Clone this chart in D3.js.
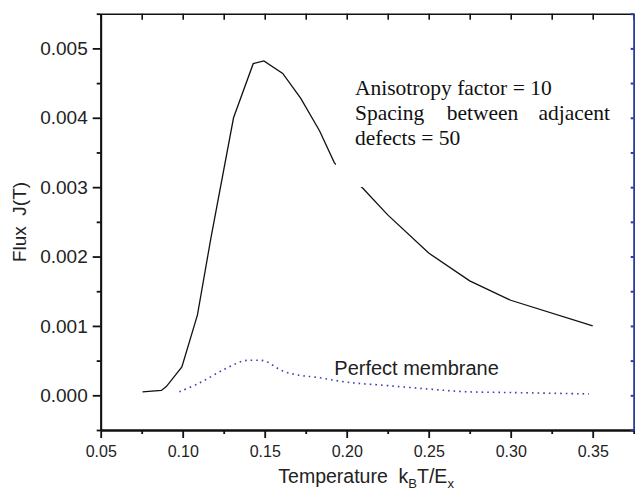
<!DOCTYPE html>
<html>
<head>
<meta charset="utf-8">
<script src="https://cdn.jsdelivr.net/npm/d3@7"></script>
<style>
  html, body { margin: 0; padding: 0; background: #fff; }
  svg { display: block; }
  text { white-space: pre; }
</style>
</head>
<body>
<svg id="chart" width="635" height="494"></svg>
<script>
// ---- data ----
const defectT = [0.0755, 0.087, 0.090, 0.0995, 0.109, 0.117, 0.131, 0.143, 0.1495, 0.161, 0.172, 0.1835, 0.1925, 0.210, 0.225, 0.250, 0.275, 0.300, 0.350];
const defectJ = [0.00005, 0.00007, 0.000125, 0.00041, 0.00116, 0.00224, 0.00400, 0.00478, 0.00482, 0.00464, 0.00428, 0.00381, 0.00335, 0.00298, 0.00260, 0.00205, 0.00165, 0.00137, 0.00100];

const perfectT = [0.098, 0.1104, 0.1246, 0.137, 0.1435, 0.150, 0.161, 0.171, 0.1814, 0.2017, 0.225, 0.250, 0.2726, 0.300, 0.3476];
const perfectJ = [0.00005, 0.00018, 0.000365, 0.000495, 0.000505, 0.000495, 0.00035, 0.00029, 0.00026, 0.000185, 0.00014, 0.00009, 0.000052, 0.00004, 0.00002];

const xTickValues = [0.05, 0.10, 0.15, 0.20, 0.25, 0.30, 0.35];
const xTickLabels = ["0.05", "0.10", "0.15", "0.20", "0.25", "0.30", "0.35"];
const xMinorValues = [0.075, 0.125, 0.175, 0.225, 0.275, 0.325, 0.375];
const yTickValues = [0.000, 0.001, 0.002, 0.003, 0.004, 0.005];
const yTickLabels = ["0.000", "0.001", "0.002", "0.003", "0.004", "0.005"];
const yMinorValues = [-0.0005, 0.0005, 0.0015, 0.0025, 0.0035, 0.0045, 0.0055];

const xDomain = [0.05, 0.375];
const yDomain = [-0.0005, 0.0055];

// ---- layout ----
const mLeft = 100.7, mRight = 633.7, mTop = 13.7, mBottom = 430;
const svg = d3.select("#chart");
const x = d3.scaleLinear().domain(xDomain).range([mLeft, mRight]);
const y = d3.scaleLinear().domain(yDomain).range([mBottom, mTop]);

const sans = "'Liberation Sans', Arial, Helvetica, sans-serif";
const serif = "'Liberation Serif', 'Times New Roman', serif";

// ---- curves ----
const defectData = defectT.map((t, i) => [t, defectJ[i]]);
const perfectData = perfectT.map((t, i) => [t, perfectJ[i]]);

svg.append("path")
  .attr("d", d3.line().x(d => x(d[0])).y(d => y(d[1])).curve(d3.curveCatmullRom.alpha(0.5))(perfectData))
  .attr("fill", "none").attr("stroke", "#3a40b0")
  .attr("stroke-width", 1.6).attr("stroke-dasharray", "1.6,4");

svg.append("path")
  .attr("d", d3.line().x(d => x(d[0])).y(d => y(d[1]))(defectData))
  .attr("fill", "none").attr("stroke", "#111").attr("stroke-width", 1.3);

// ---- annotation with white box ----
svg.append("rect").attr("x", 336).attr("y", 62).attr("width", 294).attr("height", 125).attr("fill", "#fff");
const ann = svg.append("g").attr("font-family", serif).attr("font-size", 21.5).attr("fill", "#111");
ann.append("text").attr("x", 355).attr("y", 95).text("Anisotropy factor = 10");
ann.append("text").attr("x", 355).attr("y", 120).text("Spacing");
ann.append("text").attr("x", 446.7).attr("y", 120).text("between");
ann.append("text").attr("x", 610).attr("y", 120).attr("text-anchor", "end").text("adjacent");
ann.append("text").attr("x", 355).attr("y", 145).text("defects = 50");

svg.append("text").attr("x", 334.3).attr("y", 375)
  .attr("font-family", sans).attr("font-size", 20).attr("fill", "#222")
  .text("Perfect membrane");

// ---- axes ----
function styleAxis(g, color, width) {
  g.select(".domain").attr("stroke", color).attr("stroke-width", width);
  g.selectAll(".tick line").attr("stroke", color).attr("stroke-width", width);
}

// left
const gl = svg.append("g").attr("transform", `translate(${mLeft},0)`)
  .call(d3.axisLeft(y).tickValues(yTickValues).tickSize(8).tickSizeOuter(0).tickPadding(5)
    .tickFormat((d, i) => yTickLabels[i]));
styleAxis(gl, "#111", 1.8);
gl.selectAll(".tick text").attr("font-family", sans).attr("font-size", 19).attr("fill", "#222");
const glm = svg.append("g").attr("transform", `translate(${mLeft},0)`)
  .call(d3.axisLeft(y).tickValues(yMinorValues).tickSize(4).tickSizeOuter(0).tickFormat(""));
styleAxis(glm, "#111", 1.8);

// bottom
const gb = svg.append("g").attr("transform", `translate(0,${mBottom})`)
  .call(d3.axisBottom(x).tickValues(xTickValues).tickSize(8).tickSizeOuter(0).tickPadding(8)
    .tickFormat((d, i) => xTickLabels[i]));
styleAxis(gb, "#111", 1.8);
gb.selectAll(".tick text").attr("font-family", sans).attr("font-size", 16).attr("fill", "#222");
const gbm = svg.append("g").attr("transform", `translate(0,${mBottom})`)
  .call(d3.axisBottom(x).tickValues(xMinorValues).tickSize(4).tickSizeOuter(0).tickFormat(""));
styleAxis(gbm, "#111", 1.8);

// top
const gt = svg.append("g").attr("transform", `translate(0,${mTop})`)
  .call(d3.axisTop(x).tickValues(xTickValues.concat(xMinorValues)).tickSize(-6).tickSizeOuter(0).tickFormat(""));
styleAxis(gt, "#111", 1.6);

// right (blue)
const gr = svg.append("g").attr("transform", `translate(${mRight},0)`)
  .call(d3.axisRight(y).tickValues(yTickValues.concat(yMinorValues)).tickSize(-3).tickSizeOuter(0).tickFormat(""));
styleAxis(gr, "#2c3c9e", 2);

// ---- axis titles ----
const xt = svg.append("text").attr("x", 278.3).attr("y", 483.3)
  .attr("font-family", sans).attr("font-size", 19.5).attr("fill", "#222");
xt.append("tspan").text("Temperature  k");
xt.append("tspan").attr("font-size", 13).attr("dy", 5).text("B");
xt.append("tspan").attr("dy", -5).text("T/E");
xt.append("tspan").attr("font-size", 13).attr("dy", 5).text("x");

svg.append("text").attr("transform", "translate(26,222) rotate(-90)")
  .attr("text-anchor", "middle").attr("font-family", sans).attr("font-size", 19).attr("fill", "#222")
  .text("Flux  J(T)");
</script>
</body>
</html>
